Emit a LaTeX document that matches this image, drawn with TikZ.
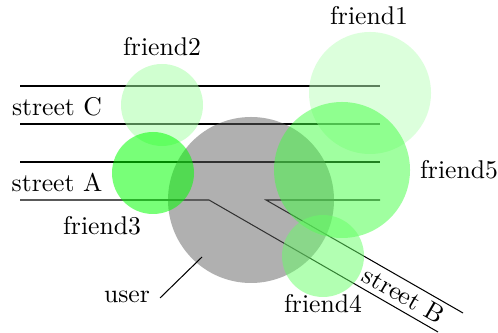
\documentclass[tikz,border=0pt]{standalone}
\begin{document}
\begin{tikzpicture}[x=0.39pt,y=-0.39pt,
  road/.style={draw=black,line width=0.4pt},
  disc/.style={circle,inner sep=0pt,minimum size={#1*0.78pt},fill opacity=0.5},
  userdisc/.style={disc=#1,fill=black!62},
  frienddisc/.style={disc=#1},
  tag/.style={inner sep=0pt,font=\normalsize}]
\useasboundingbox (0,0) rectangle (498,333);

% street C
\coordinate (c1) at (20,86);  \coordinate (c2) at (380,86);
\coordinate (c3) at (20,124); \coordinate (c4) at (380,124);
% street A
\coordinate (a1) at (20,162); \coordinate (a2) at (380,162);
\coordinate (a3) at (20,200); \coordinate (a4) at (209,200);
\coordinate (a5) at (266,200); \coordinate (a6) at (380,200);
% street B
\coordinate (b1) at (438,332); \coordinate (b2) at (463,313);

\draw[road] (c1) -- (c2);
\draw[road] (c3) -- (c4);
\draw[road] (a1) -- (a2);
\draw[road] (a3) -- (a4) -- (b1);
\draw[road] (a6) -- (a5) -- (b2);

% people
\node[userdisc=83] (user) at (251,200) {};
\node[frienddisc=61,fill=green!27] (friend1) at (370,93) {};
\node[frienddisc=41,fill=green!37] (friend2) at (162,105) {};
\node[frienddisc=41,fill=green,fill opacity=0.53] (friend3) at (153,173) {};
\node[frienddisc=68,fill=green!74] (friend5) at (342,170) {};
\node[frienddisc=41,fill=green!60] (friend4) at (323,256) {};

% labels
\node[tag] (lf1) at (369,16) {friend1};
\node[tag] (lf2) at (162,47) {friend2};
\node[tag] (lf3) at (102,226) {friend3};
\node[tag] (lf4) at (323,304) {friend4};
\node[tag] (lf5) at (459,170) {friend5};
\node[tag] (lsc) at (57,107) {street C};
\node[tag] (lsa) at (57,182) {street A};
\node[tag,rotate=-30] (lsb) at (404,295) {street B};
\node[tag] (lu) at (127,297) {user};

\coordinate (p1) at (160,298);
\coordinate (p2) at (202,257);
\draw (p1) -- (p2);
\end{tikzpicture}
\end{document}
